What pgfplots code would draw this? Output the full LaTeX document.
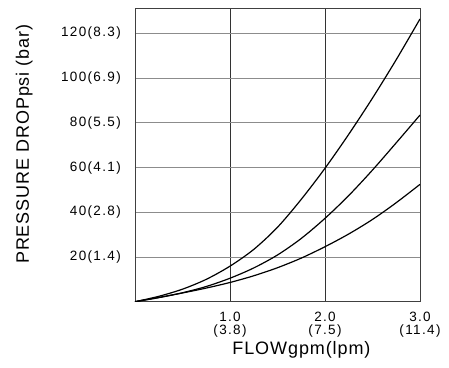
\documentclass[border=0pt]{standalone}
\usepackage{fontspec}
\setmainfont{Liberation Sans}
\newfontfamily\tickfont[LetterSpace=10]{Liberation Sans}
\newfontfamily\labfont[LetterSpace=5]{Liberation Sans}
\usepackage{pgfplots}
\pgfplotsset{compat=1.18}
\pgfplotstableread{
x top mid bot
0 0 0 0
0.25 2.4 1.8 1.9
0.5 5.6 4 3.9
0.75 10 6.8 6.1
1.0 15.9 10.5 8.6
1.25 23.4 15.1 11.6
1.5 33.3 20.9 15.2
1.75 45.8 28.3 19.5
2.0 59.7 37.3 24.6
2.25 74.9 47.5 30.3
2.5 91.1 58.9 36.8
2.75 108.3 71.1 44.3
3.0 126.5 83.5 52.5
}\curves
\begin{document}
\begin{tikzpicture}
\begin{axis}[
 width=285pt, height=293.7pt, scale only axis,
 xmin=0, xmax=3, ymin=0, ymax=131.4,
 xtick={1,2,3}, xticklabels={{1.0\\(3.8)},{2.0\\(7.5)},{3.0\\(11.4)}},
 ytick={20,40,60,80,100,120},
 yticklabels={20(1.4),40(2.8),60(4.1),80(5.5),100(6.9),120(8.3)},
 major tick length=0pt,
 xmajorgrids, ymajorgrids,
 x grid style={black!80, line width=0.6pt},
 y grid style={black!45, line width=0.8pt},
 axis line style={black!75, line width=0.7pt},
 xticklabel style={font=\fontsize{13.5}{13}\selectfont\tickfont, align=center, anchor=north, inner sep=0pt, yshift=-10pt},
 yticklabel style={font=\fontsize{13.5}{13}\selectfont\tickfont, anchor=east, inner sep=0pt, xshift=-14pt},
 xlabel={FLOW\hspace{1pt}gpm(lpm)},
 ylabel={PRESSURE DROP\hspace{1pt}psi (bar)},
 xlabel style={at={(rel axis cs:0.584,-0.164)}, anchor=center, inner sep=0pt, font=\fontsize{18}{20}\selectfont\labfont},
 ylabel style={at={(rel axis cs:-0.389,0.536)}, anchor=center, inner sep=0pt, font=\fontsize{18}{20}\selectfont\labfont},
]
\addplot[black, line width=1.2pt, smooth] table[x=x, y=top] {\curves};
\addplot[black, line width=1.2pt, smooth] table[x=x, y=mid] {\curves};
\addplot[black, line width=1.2pt, smooth] table[x=x, y=bot] {\curves};
\coordinate (sw) at (rel axis cs:0,0);
\coordinate (ne) at (rel axis cs:1,1);
\end{axis}
\path (sw) ++(-135pt,-66.3pt);
\path (ne) ++(29pt,8pt);
\end{tikzpicture}
\end{document}
